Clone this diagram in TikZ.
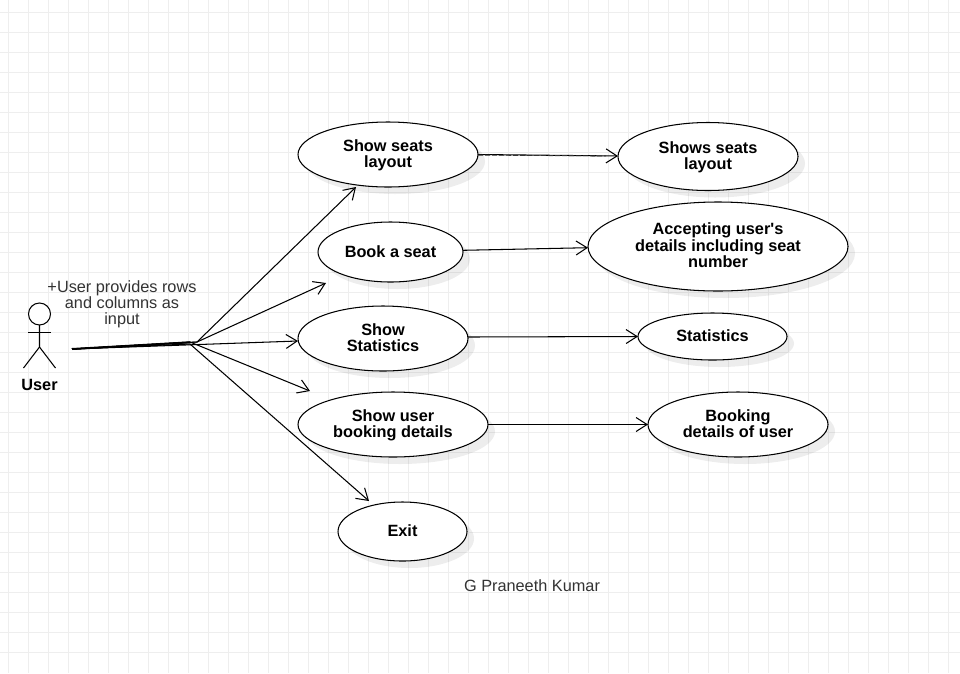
\documentclass[tikz,border=0pt]{standalone}
\usepackage{fontspec}
\setmainfont{Liberation Sans}
\usetikzlibrary{arrows.meta,shadows,shapes.geometric}
\definecolor{gridc}{HTML}{EEEEEE}
\definecolor{labelc}{HTML}{333333}
\newcommand{\firstln}{\rule{0pt}{13pt}}
\newcommand{\lastln}{\rule[-3.5pt]{0pt}{3.5pt}}
\tikzset{
  gridline/.style={draw=gridc,line width=1pt},
  usecase/.style={draw=black,fill=white,shape=ellipse,inner sep=0pt,outer sep=0pt,line width=1.05pt,
    align=center,font=\fontsize{16.3}{16.5}\selectfont\bfseries,
    drop shadow={shadow xshift=7pt,shadow yshift=-7pt,opacity=.07,fill=black}},
  single/.style={execute at begin node={\rule{0pt}{14pt}},
    execute at end node={\rule[-3.5pt]{0pt}{3.5pt}}},
  conn/.style={draw=black,line width=1.05pt,-{Straight Barb[length=11pt,width=14pt,line width=1.05pt]}},
  plainline/.style={draw=black,line width=1.05pt},
  trunk/.style={draw=black,line width=2pt},
  dashover/.style={draw=black!80,line width=.9pt,dash pattern=on 5pt off 2pt},
  note/.style={inner sep=0pt,outer sep=0pt,align=center,text=labelc,font=\fontsize{16.3}{16}\selectfont},
  actorlabel/.style={inner sep=0pt,outer sep=0pt,font=\fontsize{16.3}{19}\selectfont\bfseries}
}
\begin{document}
\begin{tikzpicture}[x=1pt,y=-1pt]
\useasboundingbox (0,0) rectangle (960,673);
\fill[white] (0,0) rectangle (960,673);
\foreach \gx in {8.5,28.5,...,950} {\draw[gridline] (\gx,0) -- (\gx,673);}
\foreach \gy in {12.5,32.5,...,670} {\draw[gridline] (0,\gy) -- (960,\gy);}

% use cases
\node[usecase,minimum width=180pt,minimum height=65pt] (seats) at (388,154.5) {\firstln Show seats\\layout\lastln};
\node[usecase,minimum width=180pt,minimum height=68pt] (shows) at (708,156.5) {\firstln Shows seats\\layout\lastln};
\node[usecase,single,minimum width=145pt,minimum height=60pt] (book) at (390.5,252) {Book a seat};
\node[usecase,minimum width=260pt,minimum height=89pt] (accept) at (718,246.5) {\firstln Accepting user\textquotesingle s\\details including seat\\number\lastln};
\node[usecase,minimum width=170pt,minimum height=65pt] (stats) at (383,338.5) {\firstln Show\\Statistics\lastln};
\node[usecase,single,minimum width=149pt,minimum height=47pt] (statres) at (712.5,336.5) {Statistics};
\node[usecase,minimum width=190pt,minimum height=65pt] (details) at (393,424.5) {\firstln Show user\\booking details\lastln};
\node[usecase,minimum width=180pt,minimum height=65pt] (detres) at (738,424.5) {\firstln Booking\\details of user\lastln};
\node[usecase,single,minimum width=129pt,minimum height=59pt] (exit) at (402.5,531.5) {Exit};

% actor
\node[draw=black,line width=1.05pt,fill=white,shape=circle,minimum size=22pt,inner sep=0pt,outer sep=0pt] (head) at (39.5,314) {};
\coordinate (hip) at (39.5,347);
\coordinate (armL) at (28,332.5);
\coordinate (armR) at (51,332.5);
\coordinate (legL) at (23.5,368);
\coordinate (legR) at (55.5,368);
\draw[plainline] (head.south) -- (hip) -- (legL);
\draw[plainline] (hip) -- (legR);
\draw[plainline] (armL) -- (armR);
\node[actorlabel] (user) at (39.5,384.5) {User};

% texts
\node[note] (input) at (122,304) {+User provides rows\\and columns as\\input};
\node[note] (author) at (532,585.5) {G Praneeth Kumar};

% free connector points
\coordinate (from) at (72,349);
\coordinate (hubT) at (190,342.3);
\coordinate (hubA) at (197,342);
\coordinate (hubB) at (190,342);
\coordinate (hubC) at (190,344);
\coordinate (toseats) at (356,187);
\coordinate (tobook) at (326,283);
\coordinate (tostats) at (298,341);
\coordinate (todetails) at (310,391);
\coordinate (toexit) at (369,501);

% actor connectors
\draw[trunk] (from) -- (hubT);
\draw[conn] (from) -- (hubA) -- (toseats);
\draw[conn] (from) -- (hubA) -- (tobook);
\draw[conn] (from) -- (tostats);
\draw[conn] (from) -- (hubB) -- (todetails);
\draw[conn] (from) -- (hubC) -- (toexit);

% result connectors
\draw[conn] (seats.east) -- ([yshift=.5pt]shows.west);
\draw[dashover] ([yshift=-.6pt]seats.east) -- ([xshift=-12pt,yshift=.6pt]shows.west);
\draw[conn] ([yshift=1.7pt]book.east) -- ([yshift=-1.2pt]accept.west);
\draw[conn] ([yshift=1.5pt]stats.east) -- (statres.west);
\draw[conn] (details.east) -- (detres.west);
\end{tikzpicture}
\end{document}
